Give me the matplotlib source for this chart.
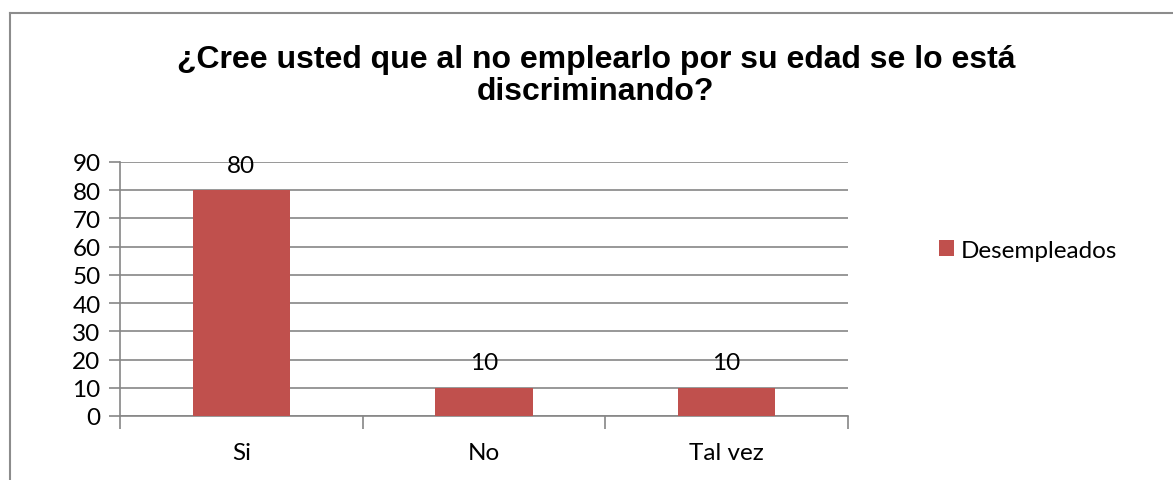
import numpy as np
import matplotlib.pyplot as plt
from matplotlib.lines import Line2D

categorias = ["Si", "No", "Tal vez"]
desempleados = [80, 10, 10]
titulo = "¿Cree usted que al no emplearlo por su edad se lo está\ndiscriminando?"
serie = "Desempleados"

rojo = "#C0504D"
gris = "#868686"
fuente = "Lato"
tam = 17.5

fig = plt.figure(figsize=(11.73, 4.81), dpi=100)
ax = fig.add_axes([120/1173, 1 - 417/481, 728/1173, 254/481])

x = np.arange(len(categorias))
barras = ax.bar(x, desempleados, width=0.4, color=rojo, label=serie, zorder=3)

for xi, v in zip(x, desempleados):
    ax.annotate(str(v), (xi, v), xytext=(0, 18), textcoords="offset points",
                ha="center", va="center", fontsize=tam, family=fuente, zorder=4)

ax.set_xlim(-0.5, len(categorias) - 0.5)
ax.set_ylim(0, 90)
ax.set_yticks(range(0, 91, 10))
ax.set_xticks(x)
ax.set_xticklabels(categorias)
ax.set_xticks(np.arange(-0.5, len(categorias), 1), minor=True)
ax.tick_params(axis="x", which="major", length=0, pad=19)
ax.tick_params(axis="x", which="minor", length=9, width=1.2, color=gris, direction="out")
ax.tick_params(axis="y", length=8, width=1.2, color=gris, pad=6)
for lab in ax.get_xticklabels() + ax.get_yticklabels():
    lab.set_fontfamily(fuente)
    lab.set_fontsize(tam)

ax.grid(axis="y", color=gris, linewidth=1.2, zorder=0)
for s in ["top", "right"]:
    ax.spines[s].set_visible(False)
for s in ["left", "bottom"]:
    ax.spines[s].set_color(gris)
    ax.spines[s].set_linewidth(1.2)

fig.text(596/1173, 1 - 100/481, titulo, ha="center", va="baseline",
         fontsize=23, fontweight="bold", family="Liberation Sans", linespacing=1.1)

fig.legend(handles=[barras], loc="center left", bbox_to_anchor=(927/1173, 1 - 251/481),
           frameon=False, prop={"family": fuente, "size": tam},
           handlelength=0.6, handleheight=0.6, handletextpad=0.3, borderpad=0)

# marco del grafico
fig.add_artist(Line2D([10/1173, 1], [1 - 14/481, 1 - 14/481], color="#8c8c8c", linewidth=1.5))
fig.add_artist(Line2D([10/1173, 10/1173], [0, 1 - 14/481], color="#8c8c8c", linewidth=1.5))

fig.savefig("out.png", dpi=100)
